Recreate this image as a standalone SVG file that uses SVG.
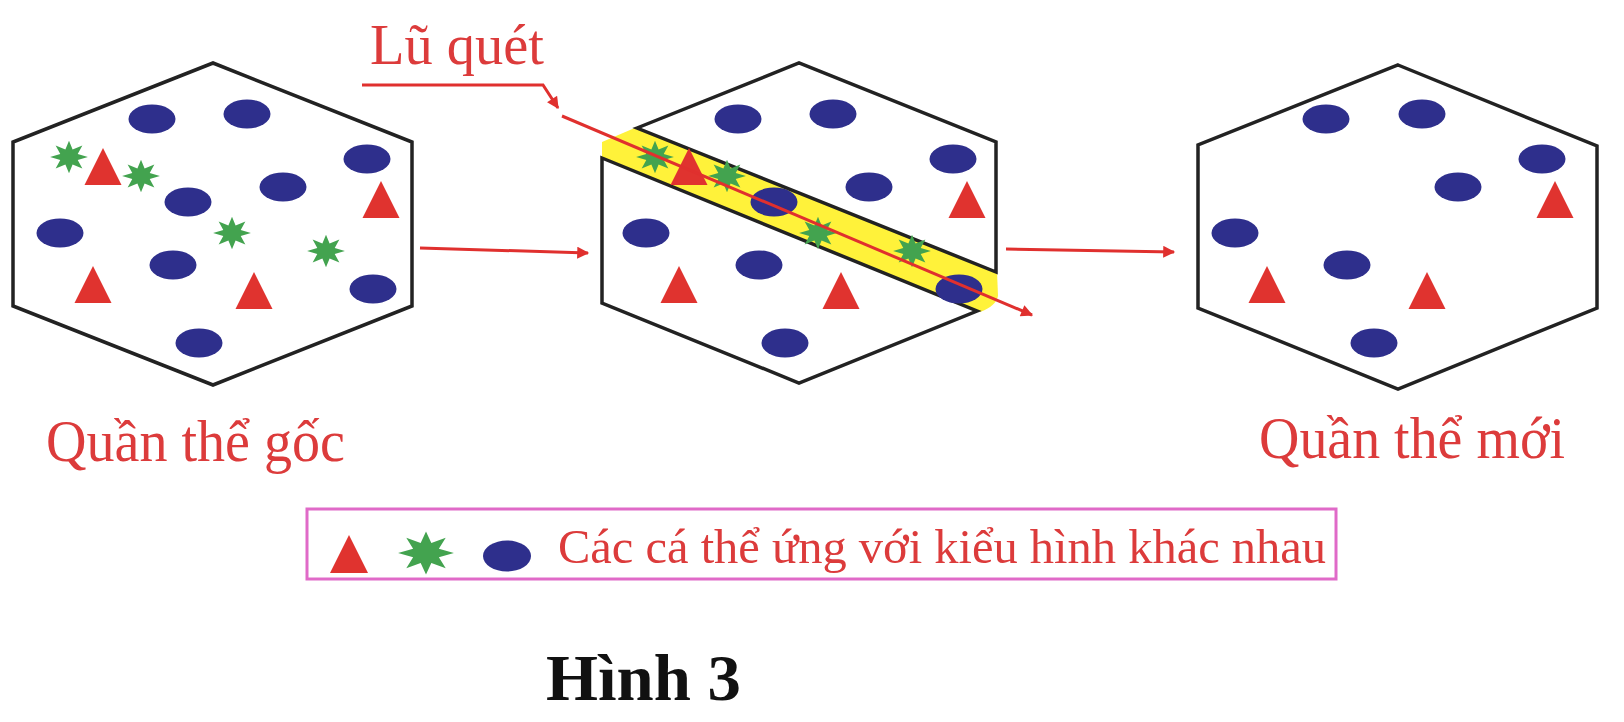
<svg xmlns="http://www.w3.org/2000/svg" xmlns:xlink="http://www.w3.org/1999/xlink" width="1624" height="722" viewBox="0 0 1624 722">
<style>
.hex{fill:#fff;stroke:#222;stroke-width:3.5;stroke-linejoin:miter}
.blue{fill:#2e2f8c}
.red{fill:#e0332f}
.green{fill:#43a34f}
.band{fill:#fff23a}
.lbl{font-family:"Liberation Serif","Times New Roman",serif;fill:#dc3b3b}
.cap{font-family:"Liberation Serif","Times New Roman",serif;font-weight:bold;fill:#111}
.arr{fill:none;stroke:#e0302e;stroke-width:3}
</style>
<defs>
<ellipse id="e" cx="0" cy="0" rx="23.5" ry="14.5" class="blue"/>
<path id="t" d="M0,0 L18.5,37 L-18.5,37 Z" class="red"/>
<polygon id="s" class="green" points="0,-18 3.44,-8.31 12.73,-12.73 8.31,-3.44 18,0 8.31,3.44 12.73,12.73 3.44,8.31 0,18 -3.44,8.31 -12.73,12.73 -8.31,3.44 -18,0 -8.31,-3.44 -12.73,-12.73 -3.44,-8.31"/>
<marker id="ah" viewBox="0 0 10 10" refX="9" refY="5" markerWidth="5.5" markerHeight="4" orient="auto" markerUnits="strokeWidth">
<path d="M0,0 L10,5 L0,10 Z" fill="#e0302e"/>
</marker>
</defs>
<rect width="1624" height="722" fill="#fff"/>

<g id="population-original">
<polygon class="hex" points="213,63 412,142 412,306 213,385 13,306 13,142"/>
<use href="#e" x="152" y="119"/>
<use href="#e" x="247" y="114"/>
<use href="#e" x="367" y="159"/>
<use href="#e" x="283" y="187"/>
<use href="#e" x="188" y="202"/>
<use href="#e" x="60" y="233"/>
<use href="#e" x="173" y="265"/>
<use href="#e" x="373" y="289"/>
<use href="#e" x="199" y="343"/>
<use href="#t" x="103" y="148"/>
<use href="#t" x="381" y="181"/>
<use href="#t" x="93" y="266"/>
<use href="#t" x="254" y="272"/>
<use href="#s" transform="translate(69,157) scale(1.05,0.9)"/>
<use href="#s" transform="translate(141,176) scale(1.05,0.9)"/>
<use href="#s" transform="translate(232,233) scale(1.05,0.9)"/>
<use href="#s" transform="translate(326,251) scale(1.05,0.9)"/>
</g>

<g id="population-flood">
<path class="band" d="M602,142 L637,127 L997,271 L998,296 Q996,306 980,312 L602,158 Z"/>
<polygon class="hex" points="637,128 799,63 996,142 996,272"/>
<polygon class="hex" points="602,158 977,311 799,383 602,303"/>
<use href="#e" x="738" y="119"/>
<use href="#e" x="833" y="114"/>
<use href="#e" x="953" y="159"/>
<use href="#e" x="869" y="187"/>
<use href="#e" x="774" y="202"/>
<use href="#e" x="646" y="233"/>
<use href="#e" x="759" y="265"/>
<use href="#e" x="959" y="289"/>
<use href="#e" x="785" y="343"/>
<use href="#t" x="689" y="148"/>
<use href="#t" x="967" y="181"/>
<use href="#t" x="679" y="266"/>
<use href="#t" x="841" y="272"/>
<use href="#s" transform="translate(655,157) scale(1.05,0.9)"/>
<use href="#s" transform="translate(727,176) scale(1.05,0.9)"/>
<use href="#s" transform="translate(818,233) scale(1.05,0.9)"/>
<use href="#s" transform="translate(912,251) scale(1.05,0.9)"/>
</g>

<g id="population-new">
<polygon class="hex" points="1398,65 1597,146 1597,308 1398,389 1198,308 1198,145"/>
<use href="#e" x="1326" y="119"/>
<use href="#e" x="1422" y="114"/>
<use href="#e" x="1542" y="159"/>
<use href="#e" x="1458" y="187"/>
<use href="#e" x="1235" y="233"/>
<use href="#e" x="1347" y="265"/>
<use href="#e" x="1374" y="343"/>
<use href="#t" x="1555" y="181"/>
<use href="#t" x="1267" y="266"/>
<use href="#t" x="1427" y="272"/>
</g>

<g id="connectors">
<line class="arr" x1="420" y1="248" x2="588" y2="253" marker-end="url(#ah)"/>
<line class="arr" x1="1006" y1="249" x2="1174" y2="252" marker-end="url(#ah)"/>
<path class="arr" d="M362,85 H543 L558,108" marker-end="url(#ah)"/>
<line class="arr" x1="562" y1="116" x2="1032" y2="315" marker-end="url(#ah)"/>
</g>

<g id="label-flood">
<text class="lbl" x="370" y="64" font-size="56" textLength="174" lengthAdjust="spacingAndGlyphs">Lũ quét</text>
</g>
<g id="label-original">
<text class="lbl" x="46" y="461" font-size="60" textLength="299" lengthAdjust="spacingAndGlyphs">Quần thể gốc</text>
</g>
<g id="label-new">
<text class="lbl" x="1259" y="458" font-size="60" textLength="306" lengthAdjust="spacingAndGlyphs">Quần thể mới</text>
</g>

<g id="legend">
<rect x="307" y="509" width="1029" height="70" fill="none" stroke="#e06ac8" stroke-width="3"/>
<path class="red" d="M349,535 L368,573 L330,573 Z"/>
<use href="#s" transform="translate(426,553) scale(1.55,1.2)"/>
<ellipse class="blue" cx="507" cy="556" rx="24" ry="15.5"/>
<text class="lbl" x="558" y="563" font-size="49" textLength="768" lengthAdjust="spacingAndGlyphs">Các cá thể ứng với kiểu hình khác nhau</text>
</g>

<g id="caption">
<text class="cap" x="546" y="700" font-size="65" textLength="195" lengthAdjust="spacingAndGlyphs">Hình 3</text>
</g>
</svg>
